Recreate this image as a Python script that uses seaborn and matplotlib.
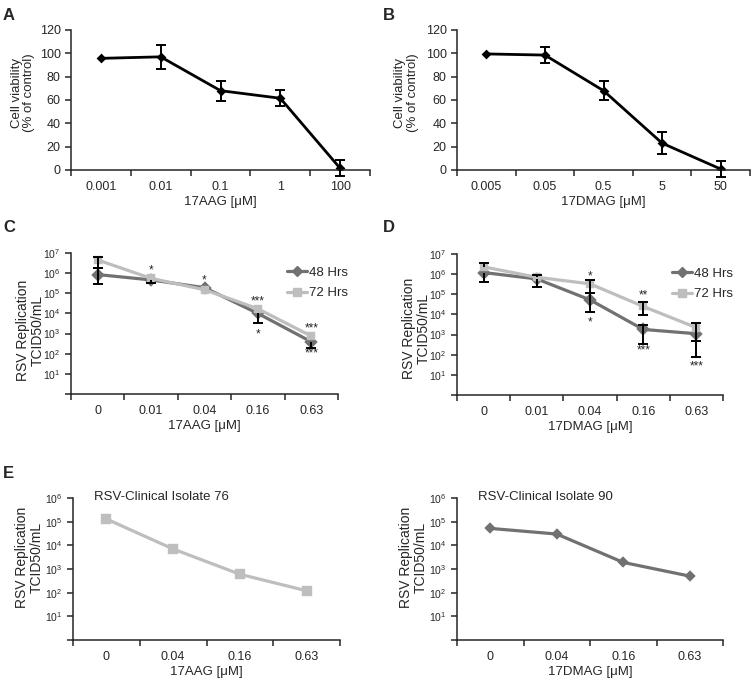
import numpy as np
import pandas as pd
import matplotlib
matplotlib.use("Agg")
import matplotlib.pyplot as plt
from matplotlib.lines import Line2D
from matplotlib.ticker import FixedLocator, NullLocator
import seaborn as sns

sns.set_style("ticks")
plt.rcParams["font.family"] = ["Liberation Sans", "DejaVu Sans"]
plt.rcParams["mathtext.fontset"] = "custom"
plt.rcParams["mathtext.rm"] = "Liberation Sans"
plt.rcParams["mathtext.it"] = "Liberation Sans:italic"
plt.rcParams["mathtext.bf"] = "Liberation Sans:bold"
plt.rcParams["axes.linewidth"] = 1.1

# --- panel A / B : cell viability ---
a_doses = ["0.001", "0.01", "0.1", "1", "100"]
a_viability = [95.7, 97, 68, 61.5, 1.5]
a_err = [0, 10.5, 8.5, 7, 7]

b_doses = ["0.005", "0.05", "0.5", "5", "50"]
b_viability = [99.5, 98.5, 68, 23, 0.8]
b_err = [0, 6.5, 8.3, 9.5, 6.5]

# --- panel C / D : RSV titre, 48 and 72 hrs ---
cd_doses = ["0", "0.01", "0.04", "0.16", "0.63"]
times = ["48 Hrs", "72 Hrs"]

c_48 = [8.5e5, 4.6e5, 1.9e5, 1.0e4, 3.9e2]
c_48_low = [3.0e5, 3.2e5, 1.9e5, 3.3e3, 1.9e2]
c_48_high = [1.8e6, 4.6e5, 1.9e5, 1.0e4, 3.9e2]
c_72 = [4.5e6, 5.5e5, 1.5e5, 1.7e4, 7.5e2]
c_72_low = [1.8e6, 5.5e5, 1.5e5, 1.7e4, 7.5e2]
c_72_high = [6.5e6, 5.5e5, 1.5e5, 1.7e4, 7.5e2]
c_star_x = [1, 2, 3, 3, 4, 4]
c_star_y = [2.0e6, 6.4e5, 5.8e4, 1.3e3, 2.6e3, 1.5e2]
c_star_txt = ["*", "*", "***", "*", "***", "***"]

d_48 = [1.2e6, 5.8e5, 5.3e4, 1.8e3, 1.1e3]
d_48_low = [4.0e5, 2.2e5, 1.3e4, 3.5e2, 8e1]
d_48_high = [1.2e6, 5.8e5, 1.1e5, 3.0e3, 1.1e3]
d_72 = [2.3e6, 7.0e5, 3.3e5, 2.5e4, 2.2e3]
d_72_low = [2.3e6, 7.0e5, 1.1e5, 9e3, 5e2]
d_72_high = [3.5e6, 9.5e5, 5.0e5, 4.0e4, 3.8e3]
d_star_x = [2, 2, 3, 3, 4]
d_star_y = [1.1e6, 5.9e3, 1.3e5, 2.3e2, 3.8e1]
d_star_txt = ["*", "*", "**", "***", "***"]

# --- panel E : clinical isolates ---
e_doses = ["0", "0.04", "0.16", "0.63"]
e_iso76 = [1.3e5, 7.0e3, 6.0e2, 1.2e2]
e_iso90 = [5.2e4, 3.0e4, 1.9e3, 5.0e2]

dark = "#717171"
light = "#bebebe"
pal = {"48 Hrs": dark, "72 Hrs": light}

fig = plt.figure(figsize=(7.56, 6.83), dpi=100)


def box(l, r, t, b):
    return fig.add_axes([l / 756, 1 - b / 683, (r - l) / 756, (b - t) / 683])


def cat_axis(ax, labels, xlabel):
    n = len(labels)
    ax.set_xlim(-0.5, n - 0.5)
    ax.set_xticks(range(n))
    ax.set_xticklabels(labels)
    ax.tick_params(axis="x", which="major", length=0, pad=8, labelsize=9)
    ax.xaxis.set_minor_locator(FixedLocator(np.arange(-0.5, n, 1.0)))
    ax.tick_params(axis="x", which="minor", length=4, width=1.1)
    ax.tick_params(axis="y", length=4, width=1.1, labelsize=9)
    ax.set_xlabel(xlabel, fontsize=9.5, labelpad=2)
    sns.despine(ax=ax)


def log_axis(ax, top):
    ax.set_yscale("log")
    ax.set_ylim(1, 10.0 ** top)
    ax.yaxis.set_major_locator(FixedLocator([10.0 ** k for k in range(top + 1)]))
    ax.yaxis.set_minor_locator(NullLocator())
    ax.set_yticklabels([""] + [f"$10^{{{k}}}$" for k in range(1, top + 1)])
    ax.tick_params(axis="y", labelsize=7.5, length=4, width=1.1)


def bars(ax, vals, lo, hi, clip=True):
    # black error bars, caps only where the bar actually extends
    for x, (v, l, h) in enumerate(zip(vals, lo, hi)):
        if h > l:
            ax.vlines(x, l, h, color="black", lw=1.4, zorder=5, clip_on=clip)
        for end in (l, h):
            if end != v:
                ax.plot([x], [end], marker="_", ms=7, mew=1.4, color="black",
                        zorder=5, clip_on=clip)


def viability(ax, doses, vals, err, xlabel):
    df = pd.DataFrame({"dose": doses, "viability": vals})
    sns.pointplot(data=df, x="dose", y="viability", order=doses, color="black",
                  markers="D", markersize=3.5, linewidth=2, errorbar=None, ax=ax)
    v = np.array(vals)
    e = np.array(err)
    bars(ax, v, v - e, v + e, clip=False)
    ax.set_ylim(0, 120)
    ax.set_yticks(range(0, 121, 20))
    cat_axis(ax, doses, xlabel)
    ax.set_ylabel("Cell viability\n(% of control)", fontsize=9.5, linespacing=1.05)


def titre(ax, v48, lo48, hi48, v72, lo72, hi72, sx, sy, stxt, xlabel):
    df = pd.DataFrame({"dose": cd_doses * 2, "titre": v48 + v72,
                       "time": [times[0]] * 5 + [times[1]] * 5})
    sns.pointplot(data=df, x="dose", y="titre", hue="time", order=cd_doses,
                  hue_order=times, palette=pal, markers=["D", "s"], markersize=5,
                  linewidth=2.3, errorbar=None, ax=ax, legend=False)
    bars(ax, v48, lo48, hi48)
    bars(ax, v72, lo72, hi72)
    for x, y, t in zip(sx, sy, stxt):
        ax.annotate(t, (x, y), xytext=(0, -2.5), textcoords="offset points",
                    ha="center", va="center", fontsize=8.5)
    log_axis(ax, 7)
    cat_axis(ax, cd_doses, xlabel)
    log_axis(ax, 7)
    handles = [Line2D([], [], color=pal[t], marker=m, lw=2.3, ms=ms)
               for t, m, ms in zip(times, ["D", "s"], [5, 6])]
    ax.legend(handles, times, loc="upper left", bbox_to_anchor=(0.79, 0.94), frameon=False,
              fontsize=9.5, handlelength=1.5, handletextpad=0.15, labelspacing=0.6,
              borderaxespad=0)
    ax.set_ylabel("RSV Replication\nTCID50/mL", fontsize=10, linespacing=1.05)


def isolate(ax, vals, color, marker, ms, title, xlabel):
    df = pd.DataFrame({"dose": e_doses, "titre": vals})
    sns.pointplot(data=df, x="dose", y="titre", order=e_doses, color=color,
                  markers=marker, markersize=ms, linewidth=2.3, errorbar=None, ax=ax)
    log_axis(ax, 6)
    cat_axis(ax, e_doses, xlabel)
    log_axis(ax, 6)
    ax.text(0.08, 1.01, title, transform=ax.transAxes, fontsize=9.5, va="center")
    ax.set_ylabel("RSV Replication\nTCID50/mL", fontsize=10, linespacing=1.05)


axA = box(71, 370, 30, 170)
viability(axA, a_doses, a_viability, a_err, "17AAG [μM]")
axA.yaxis.set_label_coords(-0.12, 0.55)

axB = box(457, 750, 30, 170)
viability(axB, b_doses, b_viability, b_err, "17DMAG [μM]")
axB.yaxis.set_label_coords(-0.13, 0.55)

axC = box(71, 338, 253, 394)
titre(axC, c_48, c_48_low, c_48_high, c_72, c_72_low, c_72_high,
      c_star_x, c_star_y, c_star_txt, "17AAG [μM]")
axC.yaxis.set_label_coords(-0.10, 0.45)

axD = box(457, 723, 254, 395)
titre(axD, d_48, d_48_low, d_48_high, d_72, d_72_low, d_72_high,
      d_star_x, d_star_y, d_star_txt, "17DMAG [μM]")
axD.yaxis.set_label_coords(-0.10, 0.47)

axE1 = box(73, 340, 498, 640)
isolate(axE1, e_iso76, light, "s", 5.5, "RSV-Clinical Isolate 76", "17AAG [μM]")
axE1.yaxis.set_label_coords(-0.11, 0.58)

axE2 = box(457, 723, 498, 640)
isolate(axE2, e_iso90, dark, "D", 4.5, "RSV-Clinical Isolate 90", "17DMAG [μM]")
axE2.yaxis.set_label_coords(-0.11, 0.58)

for letter, x, y in [("A", 3, 15), ("B", 383, 15), ("C", 3, 228), ("D", 383, 228), ("E", 3, 473)]:
    fig.text(x / 756, 1 - y / 683, letter, fontsize=12, fontweight="bold", va="center")

fig.savefig("out.png", dpi=100)
